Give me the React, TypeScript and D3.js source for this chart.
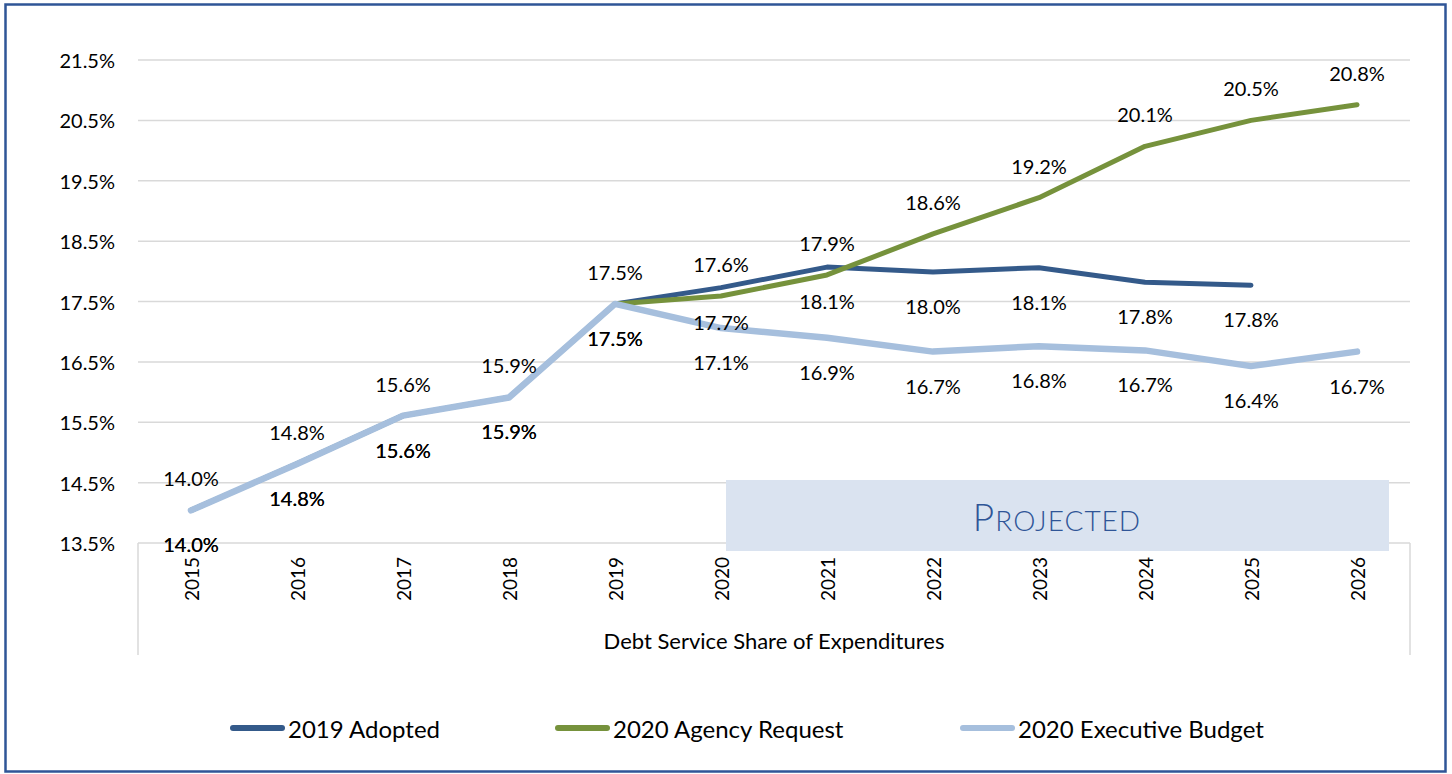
import React from 'react';
import * as d3 from 'd3';

const years = ['2015', '2016', '2017', '2018', '2019', '2020', '2021', '2022', '2023', '2024', '2025', '2026'];
const adopted2019 = [14.04, 14.81, 15.61, 15.91, 17.46, 17.73, 18.07, 17.99, 18.06, 17.82, 17.77, null];
const agencyRequest2020 = [14.04, 14.81, 15.61, 15.91, 17.46, 17.59, 17.94, 18.62, 19.22, 20.07, 20.5, 20.76];
const executiveBudget2020 = [14.04, 14.81, 15.61, 15.91, 17.46, 17.06, 16.9, 16.67, 16.76, 16.69, 16.43, 16.67];
const yTicks = [13.5, 14.5, 15.5, 16.5, 17.5, 18.5, 19.5, 20.5, 21.5];

const series = [
  { name: '2019 Adopted', values: adopted2019, color: '#345A8A', width: 5, labelDy: 34 },
  { name: '2020 Agency Request', values: agencyRequest2020, color: '#76923C', width: 5, labelDy: -32 },
  { name: '2020 Executive Budget', values: executiveBudget2020, color: '#A6BFDD', width: 6.5, labelDy: 34 },
];

const W = 1452;
const H = 774;
const font = 'Lato, "Open Sans", sans-serif';

export default function App() {
  const x = d3.scaleBand().domain(years).range([138, 1410]);
  const y = d3.scaleLinear().domain([13.5, 21.5]).range([543, 60]);
  const cx = (yr: string) => (x(yr) ?? 0) + x.bandwidth() / 2;

  const line = d3
    .line<number | null>()
    .defined((d) => d != null)
    .x((_, i) => cx(years[i]))
    .y((d) => y(d as number));

  const legendX = [230, 555, 960];

  return (
    <svg width={W} height={H} style={{ position: 'absolute', left: 0, top: 0, fontFamily: font }}>
      <rect x={0} y={0} width={W} height={H} fill="#fff" />
      <rect x={5.5} y={4.5} width={1440} height={767} fill="none" stroke="#2F5597" strokeWidth={2.5} />

      {/* gridlines */}
      {yTicks.map((t) => (
        <g key={t}>
          <line x1={138} x2={1410} y1={y(t)} y2={y(t)} stroke="#D9D9D9" strokeWidth={1.5} />
          <text x={115} y={y(t)} textAnchor="end" dominantBaseline="central" fontSize={20} fill="#000">
            {t.toFixed(1)}%
          </text>
        </g>
      ))}

      {/* axis box below plot */}
      <line x1={138} x2={138} y1={543} y2={655} stroke="#D9D9D9" strokeWidth={1.5} />
      <line x1={1410} x2={1410} y1={543} y2={655} stroke="#D9D9D9" strokeWidth={1.5} />

      {/* projected band */}
      <rect x={726} y={480} width={663} height={71} fill="#DAE3F0" />
      <text x={1057} y={531} textAnchor="middle" fill="#2F5597" letterSpacing={1} style={{ fontWeight: 300 }}>
        <tspan fontSize={37}>P</tspan>
        <tspan fontSize={28}>ROJECTED</tspan>
      </text>

      {/* year labels */}
      {years.map((yr) => (
        <text
          key={yr}
          transform={`translate(${cx(yr)},557) rotate(-90)`}
          textAnchor="end"
          dominantBaseline="central"
          fontSize={19}
          fill="#000"
        >
          {yr}
        </text>
      ))}
      <text x={774} y={640} textAnchor="middle" dominantBaseline="central" fontSize={22} fill="#000">
        Debt Service Share of Expenditures
      </text>

      {/* lines */}
      {series.map((s) => (
        <path
          key={s.name}
          d={line(s.values) ?? ''}
          fill="none"
          stroke={s.color}
          strokeWidth={s.width}
          strokeLinejoin="round"
          strokeLinecap="round"
        />
      ))}

      {/* data labels */}
      {series.map((s) =>
        s.values.map((v, i) =>
          v == null ? null : (
            <text
              key={s.name + i}
              x={cx(years[i])}
              y={y(v) + s.labelDy}
              textAnchor="middle"
              dominantBaseline="central"
              fontSize={20}
              fill="#000"
            >
              {v.toFixed(1)}%
            </text>
          )
        )
      )}

      {/* legend */}
      {series.map((s, i) => (
        <g key={s.name} transform={`translate(${legendX[i]},728)`}>
          <line x1={3} x2={52} y1={0} y2={0} stroke={s.color} strokeWidth={6} strokeLinecap="round" />
          <text x={58} y={0} dominantBaseline="central" fontSize={24} fill="#000">
            {s.name}
          </text>
        </g>
      ))}
    </svg>
  );
}
